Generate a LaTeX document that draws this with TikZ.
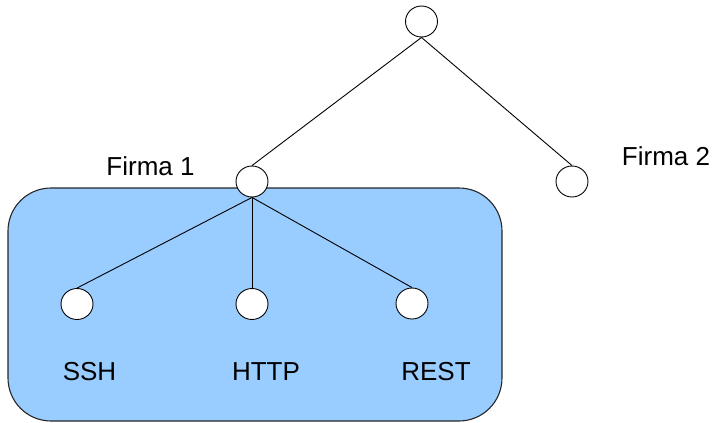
\documentclass[tikz,border=0pt]{standalone}
\usepackage{fontspec}
\setmainfont{Liberation Sans}
\usetikzlibrary{shapes.geometric}
\definecolor{boxblue}{HTML}{99CCFF}
\tikzset{
  vertex/.style={draw=black, fill=white, ellipse, minimum width=32pt, minimum height=31pt, inner sep=0pt, line width=0.9pt},
  edge/.style={draw=black, line width=0.9pt},
  label/.style={font=\fontsize{26}{31}\selectfont, anchor=base, inner sep=0pt},
}
\begin{document}
\begin{tikzpicture}[x=1pt, y=-1pt]
  \useasboundingbox (0,0) rectangle (716,423);
  % group box around the first company
  \draw[fill=boxblue, draw=black!85, line width=1.1pt, rounded corners=43pt] (8,188) rectangle (502,421);
  % tree nodes
  \node[vertex] (root) at (421.5,21.5) {};
  \node[vertex] (f1) at (252,181.5) {};
  \node[vertex] (f2) at (572,181.5) {};
  \node[vertex] (ssh) at (77,304) {};
  \node[vertex] (http) at (252,304) {};
  \node[vertex] (rest) at (412,303.5) {};
  % connectors
  \draw[edge] (root.south) -- (f1.north);
  \draw[edge] (root.south) -- (f2.north);
  \draw[edge] (f1.south) -- (ssh.north);
  \draw[edge] (f1.south) -- (http.north);
  \draw[edge] (f1.south) -- (rest.north);
  % labels
  \node[label] (l1) at (150.5,175) {Firma 1};
  \node[label] (l2) at (666,165) {Firma 2};
  \node[label] (lssh) at (89.5,380) {SSH};
  \node[label] (lhttp) at (266,380) {HTTP};
  \node[label] (lrest) at (436,380) {REST};
\end{tikzpicture}
\end{document}
